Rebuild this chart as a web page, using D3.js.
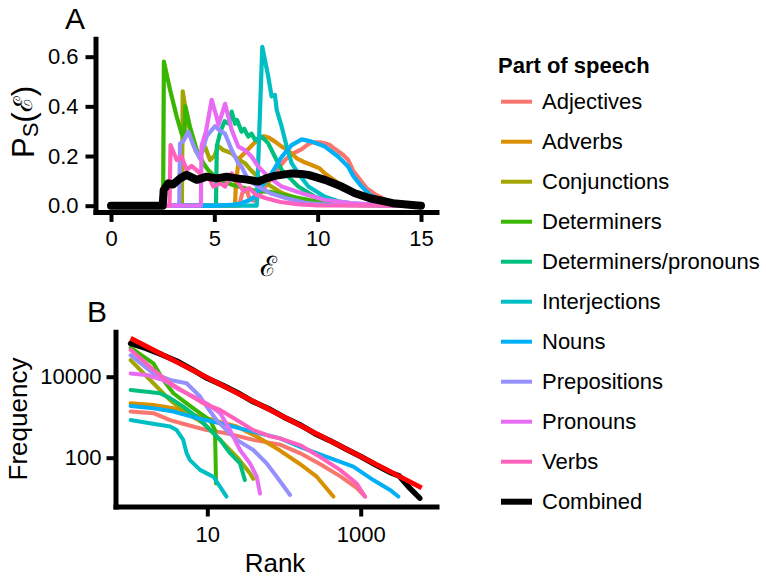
<!DOCTYPE html>
<html>
<head>
<meta charset="utf-8">
<script src="https://cdn.jsdelivr.net/npm/d3@7"></script>
<style>
  html, body { margin: 0; padding: 0; background: #fff; }
  svg { display: block; font-family: "Liberation Sans", Arial, Helvetica, sans-serif; }
</style>
</head>
<body>
<svg id="chart" width="766" height="577"></svg>
<script>
// ---------- DATA ----------
const categories = ["Adjectives","Adverbs","Conjunctions","Determiners","Determiners/pronouns",
  "Interjections","Nouns","Prepositions","Pronouns","Verbs","Combined"];
const colors = ["#F8766D","#D89000","#A3A500","#39B600","#00BF7D","#00BFC4","#00B0F6","#9590FF","#E76BF3","#FF62BC","#000000"];
const legendTitle = "Part of speech";

// Panel A: P_S(E) vs E, [E, P]
const aAdjectives = [[0,0],[6.2,0],[6.35,0.05],[6.55,0.065],[6.7,0.03],[6.9,0.02],[7.1,0.035],[7.5,0.08],[8.0,0.14],[8.42,0.184],[8.8,0.21],[9.23,0.228],[9.5,0.245],[9.71,0.255],[10.1,0.255],[10.4,0.25],[10.6,0.244],[10.84,0.228],[11.24,0.204],[11.48,0.184],[11.72,0.14],[12.0,0.11],[12.37,0.07],[12.8,0.045],[13.3,0.023],[14,0.008],[15,0.001]];
const aAdverbs = [[0,0],[6.0,0],[6.05,0.1],[6.2,0.19],[6.5,0.215],[6.9,0.25],[7.13,0.265],[7.4,0.28],[7.61,0.275],[7.9,0.26],[8.26,0.238],[8.6,0.22],[9.0,0.19],[9.3,0.177],[9.71,0.164],[10.1,0.15],[10.35,0.13],[10.9,0.097],[11.3,0.07],[11.7,0.053],[12.3,0.03],[12.85,0.016],[13.5,0.006],[15,0]];
const aConjunctions = [[0,0],[3.43,0],[3.47,0.46],[3.66,0.36],[3.9,0.278],[4.1,0.22],[4.3,0.2],[4.55,0.238],[4.79,0.184],[5.0,0.2],[5.2,0.24],[5.43,0.224],[5.84,0.211],[6.1,0.19],[6.48,0.171],[6.8,0.14],[7.2,0.11],[7.7,0.08],[8.3,0.05],[9,0.03],[10,0.01],[11,0.003],[15,0]];
const aDeterminers = [[0,0],[2.52,0],[2.56,0.58],[2.86,0.466],[3.18,0.358],[3.42,0.29],[3.55,0.27],[3.6,0.40],[3.82,0.318],[4.15,0.224],[4.47,0.171],[4.7,0.144],[5.0,0.12],[5.5,0.095],[6,0.08],[6.5,0.07],[7,0.06],[7.7,0.056],[8.5,0.04],[9.6,0.023],[10.5,0.012],[11.5,0.004],[15,0]];
const aDetPronouns = [[0,0],[5.08,0],[5.12,0.24],[5.3,0.3],[5.5,0.34],[5.7,0.33],[5.84,0.379],[6.0,0.33],[6.1,0.345],[6.32,0.298],[6.45,0.31],[6.64,0.278],[6.8,0.29],[6.97,0.265],[7.29,0.278],[7.61,0.251],[7.93,0.197],[8.26,0.144],[8.58,0.117],[9.06,0.077],[9.87,0.036],[11.0,0.01],[12,0.002],[15,0]];
const aInterjections = [[0,0],[7.05,0],[7.32,0.64],[7.61,0.52],[7.77,0.44],[7.93,0.446],[8.02,0.385],[8.26,0.318],[8.5,0.238],[8.74,0.171],[9.06,0.13],[9.55,0.077],[10.35,0.036],[11.0,0.018],[11.8,0.008],[13,0.002],[15,0]];
const aNouns = [[0,0],[5.0,0],[5.8,0.003],[6.3,0.01],[6.72,0.023],[7.0,0.04],[7.29,0.077],[7.77,0.13],[8.26,0.197],[8.74,0.244],[9.23,0.267],[9.71,0.258],[10.35,0.238],[11.0,0.197],[11.48,0.157],[11.72,0.12],[12.1,0.08],[12.53,0.043],[13.0,0.025],[13.64,0.012],[14.5,0.003],[15,0.001]];
const aPrepositions = [[0,0],[3.3,0],[3.34,0.25],[3.5,0.26],[3.74,0.298],[4.0,0.24],[4.3,0.19],[4.63,0.28],[5.03,0.32],[5.3,0.3],[5.52,0.29],[5.84,0.224],[6.16,0.171],[6.32,0.157],[6.64,0.104],[7.13,0.077],[7.7,0.05],[8.5,0.03],[9.5,0.01],[10.5,0.003],[15,0]];
const aPronouns = [[0,0],[4.35,0],[4.38,0.24],[4.6,0.3],[4.87,0.426],[5.1,0.36],[5.2,0.325],[5.52,0.41],[5.84,0.305],[6.16,0.238],[6.48,0.224],[6.81,0.197],[7.13,0.157],[7.61,0.117],[8.26,0.077],[9.23,0.05],[10.35,0.023],[11.6,0.01],[13,0.002],[15,0]];
const aVerbs = [[0,0],[2.83,0],[2.88,0.244],[3.18,0.184],[3.4,0.2],[3.66,0.144],[3.9,0.16],[4.22,0.137],[4.47,0.117],[4.7,0.12],[4.95,0.077],[5.27,0.09],[5.52,0.077],[5.84,0.13],[6.1,0.1],[6.4,0.06],[6.7,0.07],[7.0,0.045],[7.5,0.03],[8.2,0.015],[9,0.006],[10,0.001],[15,0]];
const aCombined = [[0,0],[2.5,0],[2.55,0.063],[2.77,0.09],[3.0,0.085],[3.34,0.11],[3.66,0.124],[4.15,0.104],[4.63,0.117],[5.11,0.11],[5.6,0.117],[6.08,0.11],[6.6,0.105],[7.13,0.097],[7.5,0.11],[7.93,0.12],[8.74,0.13],[9.2,0.128],[9.55,0.124],[10.35,0.104],[11.16,0.077],[11.8,0.05],[12.53,0.03],[13.64,0.01],[14.7,0.002],[15,0]];

// Panel B: frequency vs rank, [rank, frequency]
const bAdjectives = [[1,1380],[1.98,1260],[3.27,850],[5.37,650],[9.82,480],[17.8,400],[39.8,275],[88.7,210],[161,130],[294,70],[537,35],[887,18],[1138,11]];
const bAdverbs = [[1,2200],[1.98,2000],[3.61,1660],[6.58,1120],[12,850],[24.2,590],[48.6,300],[88.7,150],[161,70],[267,34],[440,11]];
const bConjunctions = [[1,25700],[1.98,6900],[3.27,2630],[5.37,1260],[8.89,710],[14.7,275],[24.2,105],[36.1,41],[39.8,30]];
const bDeterminers = [[1,52000],[1.98,21400],[2.67,8300],[3.61,3900],[5.37,2200],[8.04,1260],[10.8,850],[12.6,480],[13.0,23]];
const bDetPronouns = [[1,4700],[1.62,4270],[2.42,3900],[3.27,2950],[4.86,1820],[7.28,1020],[9.82,590],[14.7,275],[19.8,129],[26.7,72],[30.9,28]];
const bInterjections = [[1,850],[1.62,730],[3.27,590],[3.98,480],[4.86,275],[5.37,129],[5.94,87],[8.04,50],[9.82,41],[12,34],[14.7,19],[17.8,11]];
const bNouns = [[1,1900],[1.98,1660],[3.61,1380],[6.58,1000],[14.7,710],[32.7,480],[88.7,300],[161,186],[361,105],[802,60],[1462,28],[2410,16],[3090,11]];
const bPrepositions = [[1,34000],[1.98,12000],[3.27,8300],[5.37,6900],[8.04,3240],[9.82,1820],[13.2,850],[17.8,480],[24.2,275],[39.8,155],[59.6,72],[80.4,34],[120,12]];
const bPronouns = [[1,12000],[1.62,11000],[2.67,8300],[4.4,4700],[6.58,3240],[9.82,2190],[14.7,1260],[19.8,480],[26.7,155],[36.1,72],[44.1,34],[48.6,13]];
const bVerbs = [[1,46000],[1.98,14800],[3.27,6900],[5.37,3900],[8.89,2190],[14.7,1510],[24.2,850],[39.8,480],[65.6,340],[88.7,300],[161,205],[294,105],[537,50],[887,23],[1138,11]];
const bCombined = [[1,66070],[1.585,50100],[2.512,35500],[3.981,24500],[6.31,15100],[10,9120],[15.85,6170],[25.1,3980],[39.8,2400],[63.1,1620],[100,1000],[158.5,661],[251,398],[398,263],[631,166],[1000,107],[1585,66],[2512,42],[3162,35.5],[4365,17.8],[5888,10]];
const bZipfFit = [[1,89000],[6240,18]];

const aTicksX = [0,5,10,15];
const aTicksY = [0,0.2,0.4,0.6];
const bTicksX = [10,1000];
const bTicksY = [100,10000];

const seriesA = [aAdjectives,aAdverbs,aConjunctions,aDeterminers,aDetPronouns,aInterjections,aNouns,aPrepositions,aPronouns,aVerbs,aCombined];
const seriesB = [bAdjectives,bAdverbs,bConjunctions,bDeterminers,bDetPronouns,bInterjections,bNouns,bPrepositions,bPronouns,bVerbs,bCombined];

// ---------- DRAW ----------
const svg = d3.select("#chart");
const TICK_FONT = 22;

function styleAxis(g, tickW) {
  g.select(".domain").attr("stroke", "#000").attr("stroke-width", 5).attr("stroke-linecap", "square");
  g.selectAll(".tick line").attr("stroke", "#000").attr("stroke-width", tickW);
  g.selectAll(".tick text").attr("fill", "#000").attr("font-size", TICK_FONT)
    .attr("font-family", "Liberation Sans, Arial, sans-serif");
}

// Panel A
const xA = d3.scaleLinear().domain([-0.75, 15.75]).range([95.5, 436.5]);
const yA = d3.scaleLinear().domain([-0.025, 0.672]).range([211.9, 38.8]);
const lineA = d3.line().x(d => xA(d[0])).y(d => yA(d[1]));
const gA = svg.append("g");
seriesA.forEach((s, i) => {
  gA.append("path").datum(s).attr("d", lineA).attr("fill", "none")
    .attr("stroke", colors[i]).attr("stroke-width", i === 10 ? 8 : 4.2)
    .attr("stroke-linejoin", "round").attr("stroke-linecap", "round");
});
const axAx = svg.append("g").attr("transform", `translate(0,${yA.range()[0]})`)
  .call(d3.axisBottom(xA).tickValues(aTicksX).tickFormat(d3.format("d")).tickSize(10).tickSizeOuter(0).tickPadding(8));
styleAxis(axAx, 4);
const ayAx = svg.append("g").attr("transform", `translate(${xA.range()[0]},0)`)
  .call(d3.axisLeft(yA).tickValues(aTicksY).tickFormat(d3.format(".1f")).tickSize(10).tickSizeOuter(0).tickPadding(7));
styleAxis(ayAx, 4);

svg.append("text").attr("x", 75).attr("y", 18).attr("text-anchor", "middle")
  .attr("dominant-baseline", "central").attr("font-size", 30).text("A");
svg.append("text").attr("x", 268).attr("y", 266).attr("text-anchor", "middle")
  .attr("dominant-baseline", "central").attr("font-size", 28)
  .attr("font-family", "DejaVu Serif, serif").text("\u2130");
const yt = svg.append("text").attr("transform", "translate(23,122) rotate(-90)")
  .attr("text-anchor", "middle").attr("dominant-baseline", "central").attr("font-size", 31);
yt.append("tspan").text("P");
yt.append("tspan").attr("font-size", 22).attr("dy", 7).text("S");
yt.append("tspan").attr("dy", -7).text("(");
yt.append("tspan").attr("font-family", "DejaVu Serif, serif").attr("font-size", 26).text("\u2130");
yt.append("tspan").text(")");

// Panel B
const xB = d3.scaleLog().domain([Math.pow(10, -0.197), Math.pow(10, 3.988)]).range([115.5, 436.5]);
const yB = d3.scaleLog().domain([Math.pow(10, 0.795), Math.pow(10, 5.111)]).range([506.5, 331.7]);
const lineB = d3.line().x(d => xB(d[0])).y(d => yB(d[1]));
const gB = svg.append("g");
seriesB.forEach((s, i) => {
  gB.append("path").datum(s).attr("d", lineB).attr("fill", "none")
    .attr("stroke", colors[i]).attr("stroke-width", i === 10 ? 5.5 : 4)
    .attr("stroke-linejoin", "round").attr("stroke-linecap", "round");
});
gB.append("path").datum(bZipfFit).attr("d", lineB).attr("fill", "none")
  .attr("stroke", "#FF0000").attr("stroke-width", 5);
const bxAx = svg.append("g").attr("transform", `translate(0,${yB.range()[0]})`)
  .call(d3.axisBottom(xB).tickValues(bTicksX).tickFormat(d3.format("d")).tickSize(10).tickSizeOuter(0).tickPadding(10));
styleAxis(bxAx, 4);
const byAx = svg.append("g").attr("transform", `translate(${xB.range()[0]},0)`)
  .call(d3.axisLeft(yB).tickValues(bTicksY).tickFormat(d3.format("d")).tickSize(9).tickSizeOuter(0).tickPadding(5));
styleAxis(byAx, 4);

svg.append("text").attr("x", 97).attr("y", 311).attr("text-anchor", "middle")
  .attr("dominant-baseline", "central").attr("font-size", 30).text("B");
svg.append("text").attr("x", 275).attr("y", 563).attr("text-anchor", "middle")
  .attr("dominant-baseline", "central").attr("font-size", 26).text("Rank");
svg.append("text").attr("transform", "translate(18,419) rotate(-90)").attr("text-anchor", "middle")
  .attr("dominant-baseline", "central").attr("font-size", 26).text("Frequency");

// Legend
const lg = svg.append("g");
lg.append("text").attr("x", 498).attr("y", 65).attr("dominant-baseline", "central")
  .attr("font-size", 22).attr("font-weight", "bold").text(legendTitle);
categories.forEach((c, i) => {
  const y = 101.7 + 40 * i;
  lg.append("line").attr("x1", 501).attr("x2", 532).attr("y1", y).attr("y2", y)
    .attr("stroke", colors[i]).attr("stroke-width", i === 10 ? 6 : 4);
  lg.append("text").attr("x", 542).attr("y", y).attr("dominant-baseline", "central")
    .attr("font-size", 22).text(c);
});
</script>
</body>
</html>
